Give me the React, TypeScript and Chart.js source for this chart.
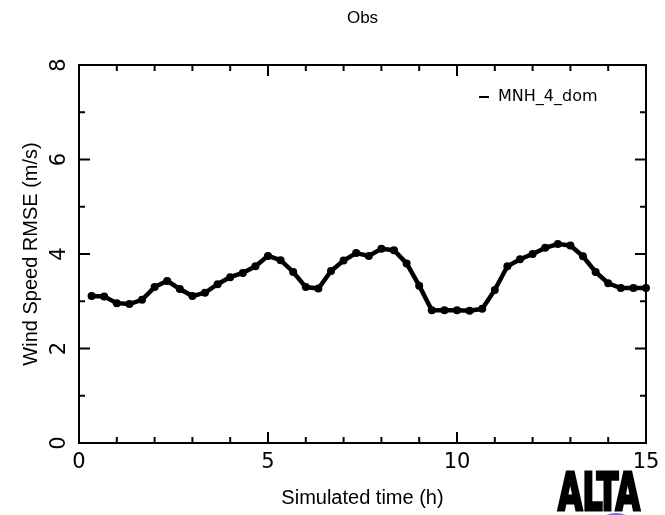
import React, { useEffect, useRef } from 'react';
import { Chart, registerables } from 'chart.js';

Chart.register(...registerables);

const times = [
  0.333, 0.667, 1.0, 1.333, 1.667, 2.0, 2.333, 2.667, 3.0, 3.333, 3.667, 4.0, 4.333, 4.667, 5.0,
  5.333, 5.667, 6.0, 6.333, 6.667, 7.0, 7.333, 7.667, 8.0, 8.333, 8.667, 9.0, 9.333, 9.667, 10.0,
  10.333, 10.667, 11.0, 11.333, 11.667, 12.0, 12.333, 12.667, 13.0, 13.333, 13.667, 14.0, 14.333, 14.667, 15.0,
];
const rmse = [
  3.11, 3.10, 2.96, 2.94, 3.03, 3.30, 3.43, 3.26, 3.11, 3.18, 3.36, 3.51, 3.60, 3.74, 3.96,
  3.87, 3.62, 3.30, 3.27, 3.64, 3.86, 4.02, 3.96, 4.11, 4.08, 3.80, 3.33, 2.81, 2.81, 2.81,
  2.80, 2.84, 3.24, 3.74, 3.89, 4.00, 4.13, 4.21, 4.18, 3.95, 3.62, 3.38, 3.28, 3.28, 3.28,
];
const xMajorTicks = [0, 5, 10, 15];
const xMinorTicks = [1, 2, 3, 4, 6, 7, 8, 9, 11, 12, 13, 14];
const yMajorTicks = [0, 2, 4, 6, 8];
const yMinorTicks = [1, 3, 5, 7];
const titleText = 'Obs';
const xTitle = 'Simulated time (h)';
const yTitle = 'Wind Speed RMSE (m/s)';
const seriesName = 'MNH_4_dom';
const logoText = 'ALTA';

const DV = '"DejaVu Sans", sans-serif';
const LS = '"Liberation Sans", Arial, sans-serif';

const decorPlugin = {
  id: 'decor',
  afterDraw(chart: any) {
    const ctx = chart.ctx as CanvasRenderingContext2D;
    const { left, right, top, bottom } = chart.chartArea;
    const xs = chart.scales.x;
    const ys = chart.scales.y;
    ctx.save();
    ctx.strokeStyle = '#000';
    ctx.fillStyle = '#000';
    ctx.lineWidth = 2;
    ctx.strokeRect(left, top, right - left, bottom - top);

    const tick = (x1: number, y1: number, x2: number, y2: number) => {
      ctx.beginPath();
      ctx.moveTo(x1, y1);
      ctx.lineTo(x2, y2);
      ctx.stroke();
    };
    xMajorTicks.forEach((v) => {
      const p = xs.getPixelForValue(v);
      tick(p, bottom, p, bottom - 11);
      tick(p, top, p, top + 11);
    });
    xMinorTicks.forEach((v) => {
      const p = xs.getPixelForValue(v);
      tick(p, bottom, p, bottom - 6);
      tick(p, top, p, top + 6);
    });
    yMajorTicks.forEach((v) => {
      const p = ys.getPixelForValue(v);
      tick(left, p, left + 11, p);
      tick(right, p, right - 11, p);
    });
    yMinorTicks.forEach((v) => {
      const p = ys.getPixelForValue(v);
      tick(left, p, left + 6, p);
      tick(right, p, right - 6, p);
    });

    // tick labels
    ctx.font = `21px ${DV}`;
    ctx.textAlign = 'center';
    ctx.textBaseline = 'middle';
    xMajorTicks.forEach((v) => {
      ctx.fillText(String(v), xs.getPixelForValue(v), bottom + 20);
    });
    yMajorTicks.forEach((v) => {
      ctx.save();
      ctx.translate(left - 19, ys.getPixelForValue(v));
      ctx.rotate(-Math.PI / 2);
      ctx.fillText(String(v), 0, 0);
      ctx.restore();
    });

    // axis titles
    ctx.font = `20px ${LS}`;
    ctx.fillText(xTitle, (left + right) / 2, bottom + 55);
    ctx.save();
    ctx.translate(31, (top + bottom) / 2);
    ctx.rotate(-Math.PI / 2);
    ctx.fillText(yTitle, 0, 0);
    ctx.restore();

    // title
    ctx.font = `17px ${LS}`;
    ctx.fillText(titleText, (left + right) / 2, 18);

    // legend
    ctx.lineWidth = 2;
    tick(479, 97, 489, 97);
    ctx.font = `16px ${DV}`;
    ctx.textAlign = 'left';
    ctx.fillText(seriesName, 498, 97);

    // logo
    ctx.fillStyle = '#7070f0';
    ctx.beginPath();
    ctx.ellipse(616, 524, 17, 11, 0, 0, Math.PI * 2);
    ctx.fill();
    ctx.fillStyle = '#000';
    ctx.strokeStyle = '#000';
    ctx.font = `bold 52px "DejaVu Sans Condensed", "Liberation Sans Narrow", sans-serif`;
    ctx.textBaseline = 'alphabetic';
    const w = ctx.measureText(logoText).width;
    ctx.save();
    ctx.translate(558, 510);
    ctx.scale(82 / w, 1);
    ctx.lineWidth = 3;
    ctx.fillText(logoText, 0, 0);
    ctx.strokeText(logoText, 0, 0);
    ctx.restore();

    ctx.restore();
  },
};

export default function App() {
  const ref = useRef<HTMLCanvasElement | null>(null);
  useEffect(() => {
    if (!ref.current) return;
    const chart = new Chart(ref.current, {
      type: 'line',
      data: {
        datasets: [
          {
            label: seriesName,
            data: times.map((t, i) => ({ x: t, y: rmse[i] })),
            borderColor: '#000',
            backgroundColor: '#000',
            borderWidth: 4.5,
            pointRadius: 4,
            pointStyle: 'circle',
            pointBorderWidth: 0,
            tension: 0,
            clip: false as any,
          },
        ],
      },
      options: {
        animation: false,
        responsive: false,
        events: [],
        layout: { padding: { top: 65, left: 79, right: 19, bottom: 72 } },
        plugins: { legend: { display: false }, tooltip: { enabled: false }, title: { display: false } },
        scales: {
          x: { type: 'linear', min: 0, max: 15, display: false },
          y: { type: 'linear', min: 0, max: 8, display: false },
        },
      },
      plugins: [decorPlugin],
    });
    return () => chart.destroy();
  }, []);
  return (
    <div style={{ position: 'fixed', left: 0, top: 0, width: 665, height: 515, background: '#fff' }}>
      <canvas ref={ref} width={665} height={515} style={{ width: 665, height: 515, display: 'block' }} />
    </div>
  );
}
